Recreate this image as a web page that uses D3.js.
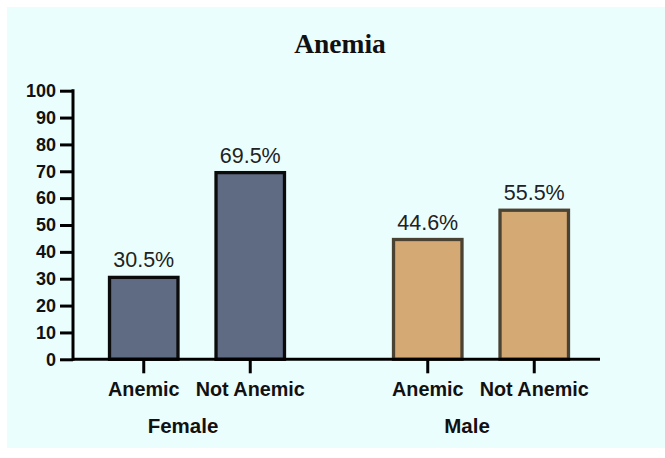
<!DOCTYPE html>
<html>
<head>
<meta charset="utf-8">
<script src="https://cdn.jsdelivr.net/npm/d3@7"></script>
<style>
  html, body { margin: 0; padding: 0; background: #ffffff; }
  svg { display: block; }
</style>
</head>
<body>
<svg id="chart" width="665" height="458"></svg>
<script>
// Anemia prevalence by sex (percent)
const groups = ["Female", "Male"];
const categories = ["Anemic", "Not Anemic"];
const femaleValues = [30.5, 69.5];
const maleValues = [44.6, 55.5];
const yTicks = [0, 10, 20, 30, 40, 50, 60, 70, 80, 90, 100];
const titleText = "Anemia";

const seriesByGroup = { Female: femaleValues, Male: maleValues };
const fills = { Female: "#5e6b82", Male: "#d4a974" };
const strokes = { Female: "#0b0b0b", Male: "#4a4232" };

const svg = d3.select("#chart");

// panel background
svg.append("rect")
  .attr("x", 7).attr("y", 7).attr("width", 658).attr("height", 441)
  .attr("fill", "#ebfefe");

// title
svg.append("text")
  .attr("x", 340).attr("y", 53)
  .attr("text-anchor", "middle")
  .attr("font-family", "'Liberation Serif', 'Times New Roman', serif")
  .attr("font-weight", "bold")
  .attr("font-size", 27.5)
  .attr("fill", "#111")
  .text(titleText);

const y = d3.scaleLinear().domain([0, 100]).range([359.3, 90.7]);

const xGroup = d3.scaleBand().domain(groups)
  .range([55, 623]).paddingInner(0.25).paddingOuter(0.125);
const xCat = d3.scaleBand().domain(categories)
  .range([0, xGroup.bandwidth()]).paddingInner(0.357).paddingOuter(0.1785);

const axisLeftX = 73;
const axisRightX = 600;

// bars
const bars = [];
groups.forEach(g => {
  categories.forEach((c, i) => {
    bars.push({ group: g, cat: c, value: seriesByGroup[g][i] });
  });
});

const barG = svg.append("g");
barG.selectAll("rect").data(bars).join("rect")
  .attr("x", d => xGroup(d.group) + xCat(d.cat))
  .attr("y", d => y(d.value))
  .attr("width", xCat.bandwidth())
  .attr("height", d => y(0) - y(d.value))
  .attr("fill", d => fills[d.group])
  .attr("stroke", d => strokes[d.group])
  .attr("stroke-width", 3.3);

// value labels
barG.selectAll("text").data(bars).join("text")
  .attr("x", d => xGroup(d.group) + xCat(d.cat) + xCat.bandwidth() / 2)
  .attr("y", d => y(d.value) - 10)
  .attr("text-anchor", "middle")
  .attr("font-family", "'Liberation Sans', Arial, sans-serif")
  .attr("font-size", 21.5)
  .attr("fill", "#222")
  .text(d => d.value.toFixed(1) + "%");

// y axis
const yAxis = d3.axisLeft(y).tickValues(yTicks).tickSize(13).tickPadding(4);
const yG = svg.append("g")
  .attr("transform", `translate(${axisLeftX},0)`)
  .call(yAxis);
yG.select(".domain").remove();
yG.selectAll(".tick line").attr("stroke", "#000").attr("stroke-width", 3);
yG.selectAll(".tick text")
  .attr("font-family", "'Liberation Sans', Arial, sans-serif")
  .attr("font-weight", "bold")
  .attr("font-size", 18)
  .attr("fill", "#111");
svg.append("line")
  .attr("x1", axisLeftX).attr("x2", axisLeftX)
  .attr("y1", y(100) - 1.5).attr("y2", y(0) + 1.5)
  .attr("stroke", "#000").attr("stroke-width", 3);

// x axis baseline
svg.append("line")
  .attr("x1", axisLeftX).attr("x2", axisRightX)
  .attr("y1", y(0)).attr("y2", y(0))
  .attr("stroke", "#000").attr("stroke-width", 3);

// x ticks and category labels
const xG = svg.append("g");
xG.selectAll("line").data(bars).join("line")
  .attr("x1", d => xGroup(d.group) + xCat(d.cat) + xCat.bandwidth() / 2)
  .attr("x2", d => xGroup(d.group) + xCat(d.cat) + xCat.bandwidth() / 2)
  .attr("y1", y(0)).attr("y2", y(0) + 14)
  .attr("stroke", "#000").attr("stroke-width", 3);
xG.selectAll("text").data(bars).join("text")
  .attr("x", d => xGroup(d.group) + xCat(d.cat) + xCat.bandwidth() / 2)
  .attr("y", 396)
  .attr("text-anchor", "middle")
  .attr("font-family", "'Liberation Sans', Arial, sans-serif")
  .attr("font-weight", "bold")
  .attr("font-size", 19.8)
  .attr("fill", "#111")
  .text(d => d.cat);

// group labels
svg.append("g").selectAll("text").data(groups).join("text")
  .attr("x", g => xGroup(g) + xGroup.bandwidth() / 2 - 14)
  .attr("y", 433)
  .attr("text-anchor", "middle")
  .attr("font-family", "'Liberation Sans', Arial, sans-serif")
  .attr("font-weight", "bold")
  .attr("font-size", 20.5)
  .attr("fill", "#111")
  .text(g => g);
</script>
</body>
</html>
